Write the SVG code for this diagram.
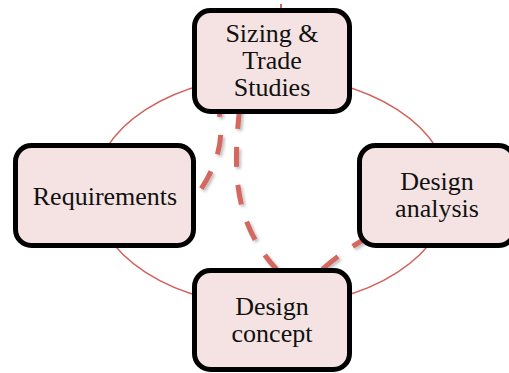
<svg xmlns="http://www.w3.org/2000/svg" width="509" height="373" viewBox="0 0 509 373">
  <defs>
    <filter id="soft-shadow" x="-20%" y="-20%" width="140%" height="140%">
      <feDropShadow dx="2" dy="2" stdDeviation="1.5" flood-color="#000" flood-opacity="0.25"/>
    </filter>
  </defs>
  <style>
    .ring { fill: none; stroke: #d0635d; stroke-width: 1.5; }
    .flow { fill: none; stroke: #d4675f; stroke-width: 5; stroke-dasharray: 20 18; filter: url(#soft-shadow); }
    .box { fill: #f4e3e2; stroke: #000; stroke-width: 5; }
    .label { font-family: "Liberation Serif", "Times New Roman", serif; font-size: 26px; fill: #111; text-anchor: middle; }
  </style>

  <!-- cycle ring and dashed feedback paths, drawn under the boxes -->
  <g id="connectors">
    <ellipse class="ring" cx="271.5" cy="191" rx="178" ry="115"/>
    <path class="flow" d="M 280.5 4 L 281.5 12" style="stroke-dasharray:none"/>
    <path class="flow" d="M 218 105 C 224 135, 222 160, 195 198" stroke-dashoffset="8"/>
    <path class="flow" d="M 240 105 C 233 170, 231 226, 285 278" stroke-dashoffset="34"/>
    <path class="flow" d="M 310 280 C 330 262, 345 250, 370 236" stroke-dashoffset="21.5"/>
  </g>

  <g id="sizing-trade-studies">
    <rect class="box" x="194.5" y="10.5" width="155" height="101" rx="16"/>
    <text class="label" x="272" y="42">Sizing &amp;</text>
    <text class="label" x="272" y="69">Trade</text>
    <text class="label" x="272" y="96">Studies</text>
  </g>

  <g id="requirements">
    <rect class="box" x="15.5" y="145.5" width="178" height="100" rx="16"/>
    <text class="label" x="105" y="205">Requirements</text>
  </g>

  <g id="design-analysis">
    <rect class="box" x="359.5" y="145.5" width="155" height="100" rx="16"/>
    <text class="label" x="437" y="190">Design</text>
    <text class="label" x="437" y="217">analysis</text>
  </g>

  <g id="design-concept">
    <rect class="box" x="194.5" y="270.5" width="155" height="99" rx="16"/>
    <text class="label" x="272" y="315">Design</text>
    <text class="label" x="272" y="342">concept</text>
  </g>
</svg>
